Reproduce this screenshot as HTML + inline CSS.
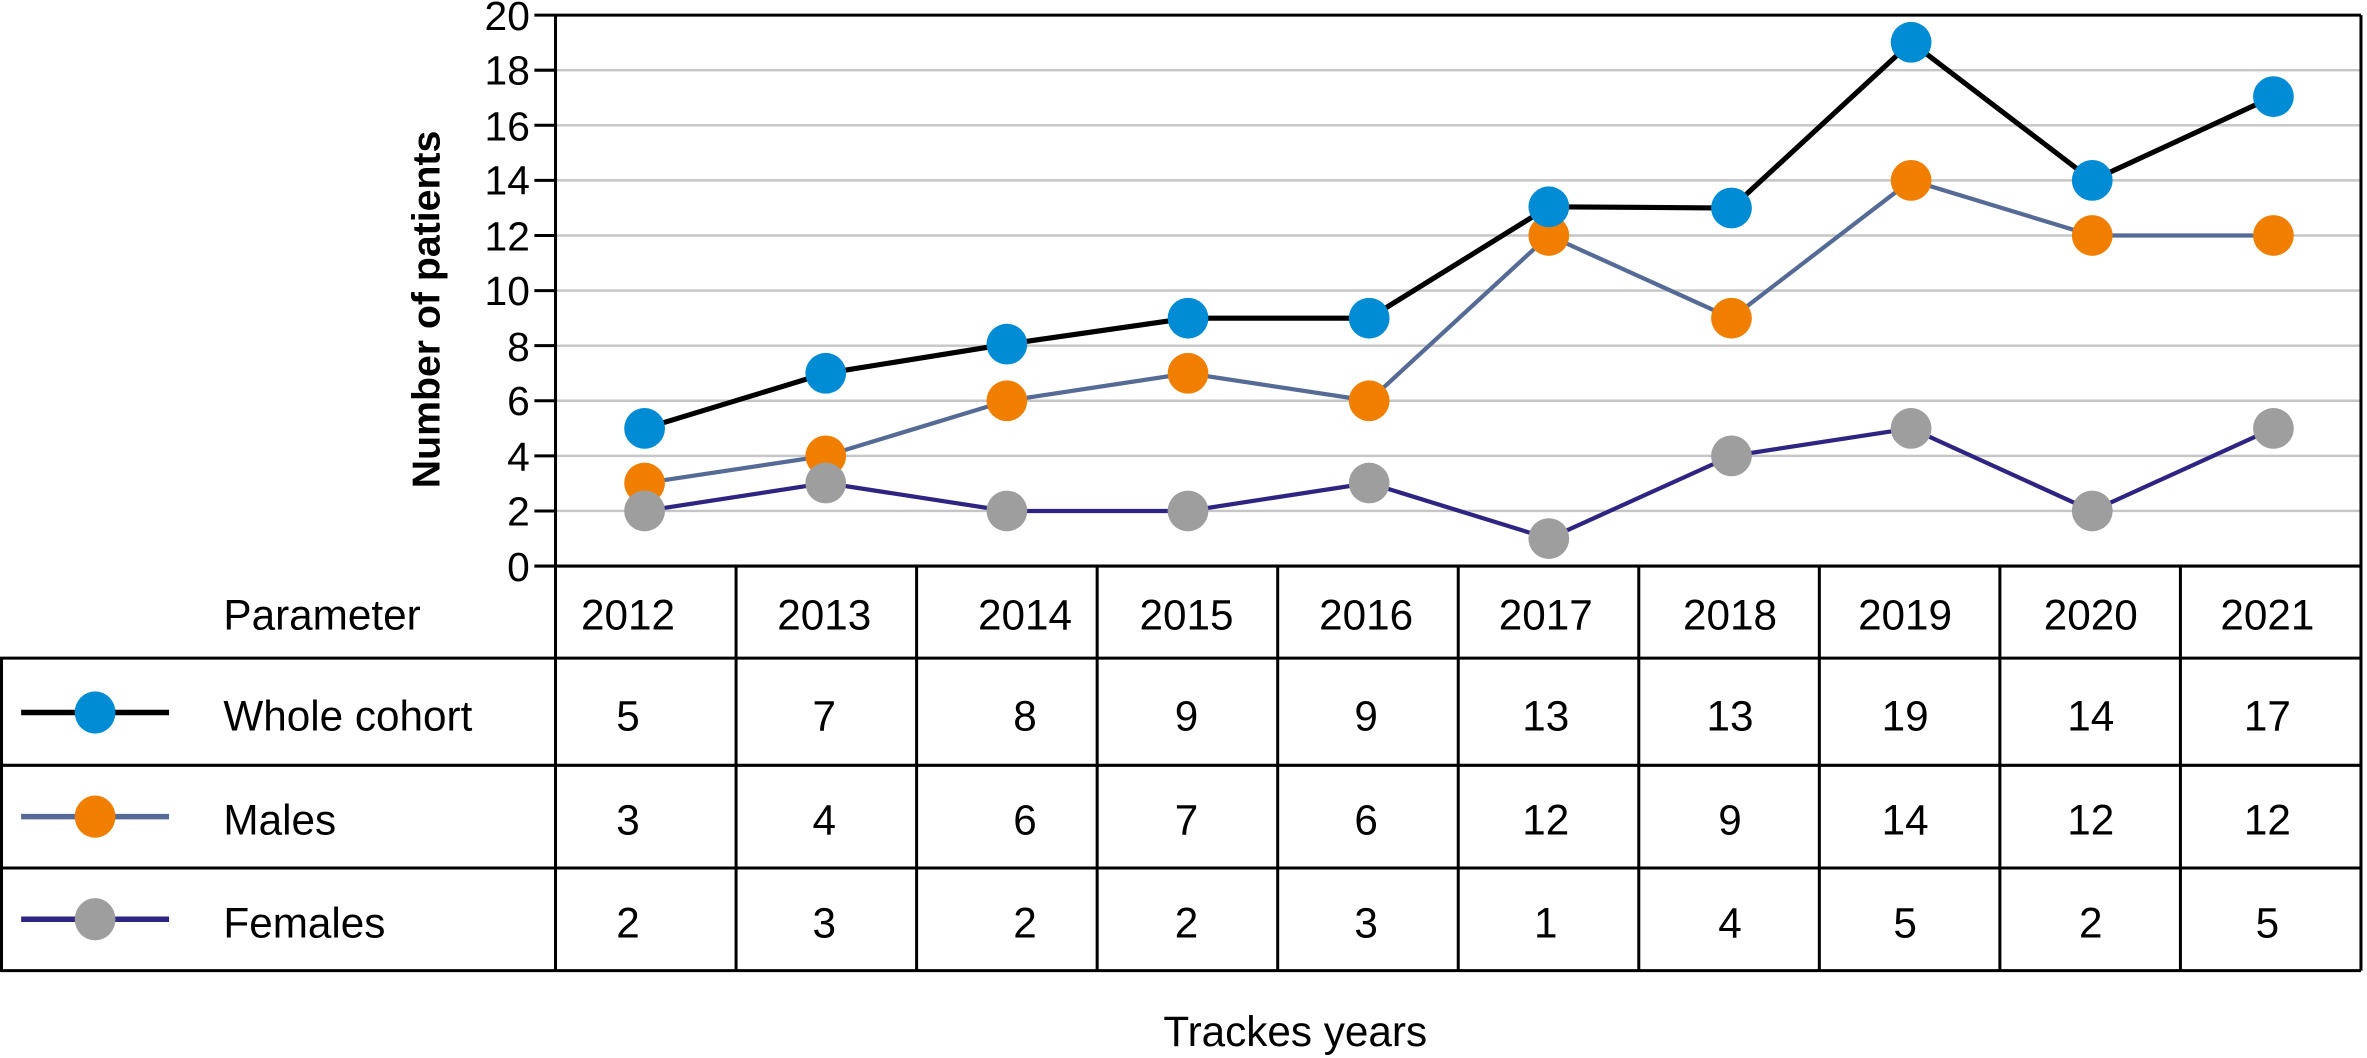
<!DOCTYPE html>
<html><head><meta charset="utf-8"><style>
html,body{margin:0;padding:0;background:#fff;}
svg{display:block;}
text{font-family:"Liberation Sans",sans-serif;fill:#000;}
</style></head><body>
<svg width="2367" height="1058" viewBox="0 0 1568 700.9" preserveAspectRatio="none" xmlns="http://www.w3.org/2000/svg">
<g stroke="#c6c6c6" stroke-width="1.6">
<line x1="368" x2="1564" y1="338.5" y2="338.5"/>
<line x1="368" x2="1564" y1="302" y2="302"/>
<line x1="368" x2="1564" y1="265.5" y2="265.5"/>
<line x1="368" x2="1564" y1="229" y2="229"/>
<line x1="368" x2="1564" y1="192.5" y2="192.5"/>
<line x1="368" x2="1564" y1="156" y2="156"/>
<line x1="368" x2="1564" y1="119.5" y2="119.5"/>
<line x1="368" x2="1564" y1="83" y2="83"/>
<line x1="368" x2="1564" y1="46.5" y2="46.5"/>
</g>
<g stroke="#000" stroke-width="2" fill="none">
<line x1="354" x2="1564" y1="10" y2="10"/>
<line x1="368" x2="368" y1="10" y2="643"/>
<line x1="1564" x2="1564" y1="10" y2="643"/>
<line x1="354" x2="1564" y1="375" y2="375"/>
<line x1="354" x2="368" y1="338.5" y2="338.5"/>
<line x1="354" x2="368" y1="302" y2="302"/>
<line x1="354" x2="368" y1="265.5" y2="265.5"/>
<line x1="354" x2="368" y1="229" y2="229"/>
<line x1="354" x2="368" y1="192.5" y2="192.5"/>
<line x1="354" x2="368" y1="156" y2="156"/>
<line x1="354" x2="368" y1="119.5" y2="119.5"/>
<line x1="354" x2="368" y1="83" y2="83"/>
<line x1="354" x2="368" y1="46.5" y2="46.5"/>
<line x1="0" x2="1564" y1="436" y2="436"/>
<line x1="0" x2="1564" y1="507" y2="507"/>
<line x1="0" x2="1564" y1="575" y2="575"/>
<line x1="0" x2="1564" y1="643" y2="643"/>
<line x1="1" x2="1" y1="436" y2="643"/>
<line x1="487.6" x2="487.6" y1="375" y2="643"/>
<line x1="607.2" x2="607.2" y1="375" y2="643"/>
<line x1="726.8" x2="726.8" y1="375" y2="643"/>
<line x1="846.4" x2="846.4" y1="375" y2="643"/>
<line x1="966" x2="966" y1="375" y2="643"/>
<line x1="1085.6" x2="1085.6" y1="375" y2="643"/>
<line x1="1205.2" x2="1205.2" y1="375" y2="643"/>
<line x1="1324.8" x2="1324.8" y1="375" y2="643"/>
<line x1="1444.4" x2="1444.4" y1="375" y2="643"/>
</g>
<g font-size="27" text-anchor="end">
<text x="351" y="385">0</text>
<text x="351" y="348">2</text>
<text x="351" y="312">4</text>
<text x="351" y="275">6</text>
<text x="351" y="239">8</text>
<text x="351" y="202">10</text>
<text x="351" y="166">12</text>
<text x="351" y="129">14</text>
<text x="351" y="93">16</text>
<text x="351" y="56">18</text>
<text x="351" y="20">20</text>
</g>
<text transform="translate(291,205) rotate(-90)" font-size="26" font-weight="bold" text-anchor="middle">Number of patients</text>
<polyline fill="none" stroke="#2e2582" stroke-width="2.8" points="427,338.5 547,320 667,338.5 787,338.5 907,320 1026,356.8 1147,302 1266,283.8 1386,338.5 1506,283.8"/>
<polyline fill="none" stroke="#556a94" stroke-width="2.8" points="427,320 547,302 667,265.5 787,247.3 907,265.5 1026,156 1147,210.8 1266,119.5 1386,156 1506,156"/>
<polyline fill="none" stroke="#000" stroke-width="3.4" points="427,283.8 547,247.3 667,228 787,210.8 907,210.8 1026,137 1147,137.8 1266,28 1386,119.5 1506,64"/>
<g fill="#f07f00">
<circle cx="427" cy="320" r="13.5"/><circle cx="547" cy="302" r="13.5"/><circle cx="667" cy="265.5" r="13.5"/><circle cx="787" cy="247.3" r="13.5"/><circle cx="907" cy="265.5" r="13.5"/><circle cx="1026" cy="156" r="13.5"/><circle cx="1147" cy="210.8" r="13.5"/><circle cx="1266" cy="119.5" r="13.5"/><circle cx="1386" cy="156" r="13.5"/><circle cx="1506" cy="156" r="13.5"/>
</g>
<g fill="#9e9e9e">
<circle cx="427" cy="338.5" r="13.5"/><circle cx="547" cy="320" r="13.5"/><circle cx="667" cy="338.5" r="13.5"/><circle cx="787" cy="338.5" r="13.5"/><circle cx="907" cy="320" r="13.5"/><circle cx="1026" cy="356.8" r="13.5"/><circle cx="1147" cy="302" r="13.5"/><circle cx="1266" cy="283.8" r="13.5"/><circle cx="1386" cy="338.5" r="13.5"/><circle cx="1506" cy="283.8" r="13.5"/>
</g>
<g fill="#008cd4">
<circle cx="427" cy="283.8" r="13.5"/><circle cx="547" cy="247.3" r="13.5"/><circle cx="667" cy="228" r="13.5"/><circle cx="787" cy="210.8" r="13.5"/><circle cx="907" cy="210.8" r="13.5"/><circle cx="1026" cy="137" r="13.5"/><circle cx="1147" cy="137.8" r="13.5"/><circle cx="1266" cy="28" r="13.5"/><circle cx="1386" cy="119.5" r="13.5"/><circle cx="1506" cy="64" r="13.5"/>
</g>
<line x1="14" x2="112" y1="472" y2="472" stroke="#000" stroke-width="3.6"/>
<ellipse cx="63" cy="472" rx="13.5" ry="14" fill="#008cd4"/>
<line x1="14" x2="112" y1="541" y2="541" stroke="#556a94" stroke-width="3.6"/>
<ellipse cx="63" cy="541" rx="13.5" ry="14" fill="#f07f00"/>
<line x1="14" x2="112" y1="609" y2="609" stroke="#2e2582" stroke-width="3.6"/>
<ellipse cx="63" cy="609" rx="13.5" ry="14" fill="#9e9e9e"/>
<g font-size="28">
<text x="148" y="417">Parameter</text>
<text x="148" y="484">Whole cohort</text>
<text x="148" y="553">Males</text>
<text x="148" y="621">Females</text>
</g>
<g font-size="28" text-anchor="middle">
<text x="416" y="417">2012</text><text x="546" y="417">2013</text><text x="679" y="417">2014</text><text x="786" y="417">2015</text><text x="905" y="417">2016</text><text x="1024" y="417">2017</text><text x="1146" y="417">2018</text><text x="1262" y="417">2019</text><text x="1385" y="417">2020</text><text x="1502" y="417">2021</text>
<text x="416" y="484">5</text><text x="546" y="484">7</text><text x="679" y="484">8</text><text x="786" y="484">9</text><text x="905" y="484">9</text><text x="1024" y="484">13</text><text x="1146" y="484">13</text><text x="1262" y="484">19</text><text x="1385" y="484">14</text><text x="1502" y="484">17</text>
<text x="416" y="553">3</text><text x="546" y="553">4</text><text x="679" y="553">6</text><text x="786" y="553">7</text><text x="905" y="553">6</text><text x="1024" y="553">12</text><text x="1146" y="553">9</text><text x="1262" y="553">14</text><text x="1385" y="553">12</text><text x="1502" y="553">12</text>
<text x="416" y="621">2</text><text x="546" y="621">3</text><text x="679" y="621">2</text><text x="786" y="621">2</text><text x="905" y="621">3</text><text x="1024" y="621">1</text><text x="1146" y="621">4</text><text x="1262" y="621">5</text><text x="1385" y="621">2</text><text x="1502" y="621">5</text>
</g>
<text x="858" y="693" font-size="28" text-anchor="middle">Trackes years</text>
</svg>
</body></html>
